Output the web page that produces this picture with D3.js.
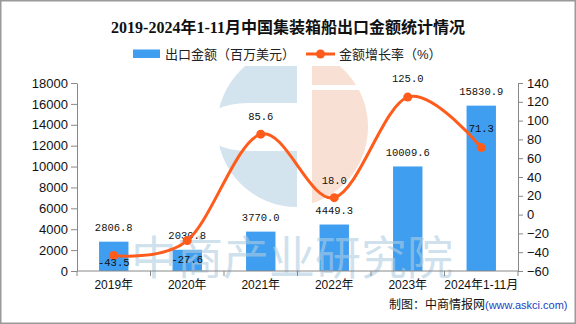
<!DOCTYPE html>
<html>
<head>
<meta charset="utf-8">
<script src="https://cdn.jsdelivr.net/npm/d3@7"></script>
<style>
  body { margin: 0; background: #fff; }
  svg { display: block; }
</style>
</head>
<body>
<svg id="vis" width="576" height="324"></svg>
<script>
const years = ['2019年', '2020年', '2021年', '2022年', '2023年', '2024年1-11月'];
const exportValues = [2806.8, 2030.8, 3770.0, 4449.3, 10009.6, 15830.9];
const growthRates = [-43.5, -27.6, 85.6, 18.0, 125.0, 71.3];
const leftTicks = [0, 2000, 4000, 6000, 8000, 10000, 12000, 14000, 16000, 18000];
const rightTicks = [-60, -40, -20, 0, 20, 40, 60, 80, 100, 120, 140];

const svg = d3.select('#vis');
const width = +svg.attr('width');
const height = +svg.attr('height');
const margin = { top: 83, right: 58, bottom: 53, left: 77 };
const plotRight = width - margin.right;
const plotBottom = height - margin.bottom;

const cjk = '"Liberation Sans", "Noto Sans CJK SC", sans-serif';
const barColor = '#3f9ef0';
const lineColor = '#ff5c1c';

// outer frame
svg.append('rect')
  .attr('x', 0.75).attr('y', 0.75)
  .attr('width', width - 1.5).attr('height', height - 1.5)
  .attr('fill', '#fff')
  .attr('stroke', '#9a9a9a')
  .attr('stroke-width', 1.5);

const x = d3.scaleBand()
  .domain(years)
  .range([margin.left, plotRight])
  .paddingInner(0.6)
  .paddingOuter(0.3);

// band boundaries for axis ticks
const xCat = d3.scaleBand().domain(years).range([margin.left, plotRight]);

const yLeft = d3.scaleLinear().domain([0, 18000]).range([plotBottom, margin.top]);
const yRight = d3.scaleLinear().domain([-60, 140]).range([plotBottom, margin.top]);

// watermark logo
const defs = svg.append('defs');
defs.append('clipPath').attr('id', 'logoClip')
  .append('rect').attr('x', 0).attr('y', 66).attr('width', width).attr('height', height);
const logo = svg.append('g').attr('clip-path', 'url(#logoClip)');
const cx = 288, cy = 127, r = 80;
logo.append('path')
  .attr('d', `M${cx + 9},${cy - r} A${r},${r} 0 0 0 ${cx + 9},${cy + r} Z`)
  .attr('fill', '#d3e4ee');
logo.append('path')
  .attr('d', `M${cx + 9},${cy - 24} L${cx - 40},${cy - 24} A46,24 0 0 0 ${cx - 40},${cy + 24} L${cx + 9},${cy + 24} Z`)
  .attr('fill', '#fff');
logo.append('rect').attr('x', cx + 9).attr('y', 0).attr('width', 15).attr('height', 260).attr('fill', '#fff');
logo.append('path')
  .attr('d', `M${cx + 24},${cy - Math.sqrt(r * r - 24 * 24)} A${r},${r} 0 0 1 ${cx + 24},${cy + Math.sqrt(r * r - 24 * 24)} Z`)
  .attr('fill', '#f9e0d5');
logo.append('rect').attr('x', cx + 24).attr('y', 85).attr('width', 50).attr('height', 5).attr('fill', '#fff');

// title
svg.append('text')
  .attr('x', width / 2)
  .attr('y', 33)
  .attr('text-anchor', 'middle')
  .style('font-family', '"Liberation Serif", "Noto Sans CJK SC", serif')
  .style('font-weight', 'bold')
  .style('font-size', '16px')
  .attr('fill', '#111')
  .text('2019-2024年1-11月中国集装箱船出口金额统计情况');

// legend
const legend = svg.append('g').attr('transform', 'translate(0,54)');
legend.append('rect')
  .attr('x', 133).attr('y', -4.5)
  .attr('width', 27).attr('height', 8.5)
  .attr('fill', barColor);
legend.append('text')
  .attr('x', 165).attr('y', 4.5)
  .style('font-family', cjk).style('font-size', '13px')
  .attr('fill', '#222')
  .text('出口金额（百万美元）');
legend.append('line')
  .attr('x1', 306).attr('x2', 335).attr('y1', 0).attr('y2', 0)
  .attr('stroke', lineColor).attr('stroke-width', 3);
legend.append('circle')
  .attr('cx', 320.5).attr('cy', 0).attr('r', 4.5)
  .attr('fill', lineColor);
legend.append('text')
  .attr('x', 339).attr('y', 4.5)
  .style('font-family', cjk).style('font-size', '13px')
  .attr('fill', '#222')
  .text('金额增长率（%）');

// bars
svg.selectAll('rect.bar')
  .data(exportValues)
  .enter()
  .append('rect')
  .attr('class', 'bar')
  .attr('x', (d, i) => x(years[i]))
  .attr('y', d => yLeft(d))
  .attr('width', x.bandwidth())
  .attr('height', d => plotBottom - yLeft(d))
  .attr('fill', barColor);

// watermark text
svg.append('text')
  .attr('x', 131)
  .attr('y', 274)
  .style('font-family', '"Noto Sans CJK SC", sans-serif')
  .style('font-size', '46px')
  .style('font-weight', 'normal')
  .attr('fill', 'rgba(175,205,225,0.6)')
  .text('中商产业研究院');

// axes
const axisFont = g => g.selectAll('text')
  .style('font-family', cjk)
  .style('font-size', '13px')
  .attr('fill', '#111');

svg.append('g')
  .attr('transform', `translate(${margin.left},0)`)
  .call(d3.axisLeft(yLeft).tickValues(leftTicks).tickFormat(d3.format('d'))
    .tickSize(6).tickPadding(3).tickSizeOuter(0))
  .call(g => g.selectAll('line,path').attr('stroke', '#888'))
  .call(axisFont);

svg.append('g')
  .attr('transform', `translate(${plotRight},0)`)
  .call(d3.axisRight(yRight).tickValues(rightTicks).tickFormat(d3.format('d'))
    .tickSize(5).tickPadding(4).tickSizeOuter(0))
  .call(g => g.selectAll('line,path').attr('stroke', '#888'))
  .call(axisFont);

const xAxis = svg.append('g').attr('transform', `translate(0,${plotBottom})`);
xAxis.append('line')
  .attr('x1', margin.left).attr('x2', plotRight)
  .attr('stroke', '#888');
xAxis.selectAll('line.tick')
  .data(years.concat(['end']))
  .enter()
  .append('line')
  .attr('class', 'tick')
  .attr('x1', (d, i) => margin.left + i * xCat.step())
  .attr('x2', (d, i) => margin.left + i * xCat.step())
  .attr('y1', 0).attr('y2', 5)
  .attr('stroke', '#888');
xAxis.selectAll('text')
  .data(years)
  .enter()
  .append('text')
  .attr('x', d => xCat(d) + xCat.bandwidth() / 2)
  .attr('y', 18)
  .attr('text-anchor', 'middle')
  .style('font-family', cjk)
  .style('font-size', '12px')
  .attr('fill', '#111')
  .text(d => d);

// bar value labels
const labelFont = '"Liberation Mono", monospace';
svg.selectAll('text.barLabel')
  .data(exportValues)
  .enter()
  .append('text')
  .attr('class', 'barLabel')
  .attr('x', (d, i) => xCat(years[i]) + xCat.bandwidth() / 2)
  .attr('y', d => yLeft(d) - 10.5)
  .attr('text-anchor', 'middle')
  .style('font-family', labelFont)
  .style('font-size', '10.5px')
  .attr('fill', '#111')
  .text(d => d.toFixed(1));

// growth line
const cxOf = i => xCat(years[i]) + xCat.bandwidth() / 2;
const line = d3.line()
  .x((d, i) => cxOf(i))
  .y(d => yRight(d))
  .curve(d3.curveCardinal.tension(0));

svg.append('path')
  .datum(growthRates)
  .attr('d', line)
  .attr('fill', 'none')
  .attr('stroke', lineColor)
  .attr('stroke-width', 3);

svg.selectAll('circle.pt')
  .data(growthRates)
  .enter()
  .append('circle')
  .attr('class', 'pt')
  .attr('cx', (d, i) => cxOf(i))
  .attr('cy', d => yRight(d))
  .attr('r', 4.5)
  .attr('fill', lineColor);

const lineLabelDy = [11, 22, -14, -14, -15, -16];
svg.selectAll('text.lineLabel')
  .data(growthRates)
  .enter()
  .append('text')
  .attr('class', 'lineLabel')
  .attr('x', (d, i) => cxOf(i))
  .attr('y', (d, i) => yRight(d) + lineLabelDy[i])
  .attr('text-anchor', 'middle')
  .style('font-family', labelFont)
  .style('font-size', '10.5px')
  .attr('fill', '#111')
  .text(d => d.toFixed(1));

// source note
const src = svg.append('text')
  .attr('x', 389)
  .attr('y', 309)
  .style('font-family', '"Noto Sans CJK SC", sans-serif')
  .style('font-size', '12px')
  .attr('fill', '#111');
src.append('tspan').text('制图：中商情报网');
src.append('tspan')
  .style('font-family', '"Liberation Sans", sans-serif')
  .style('font-size', '11px')
  .attr('fill', '#1c3fc0')
  .text('(www.askci.com)');
</script>
</body>
</html>
